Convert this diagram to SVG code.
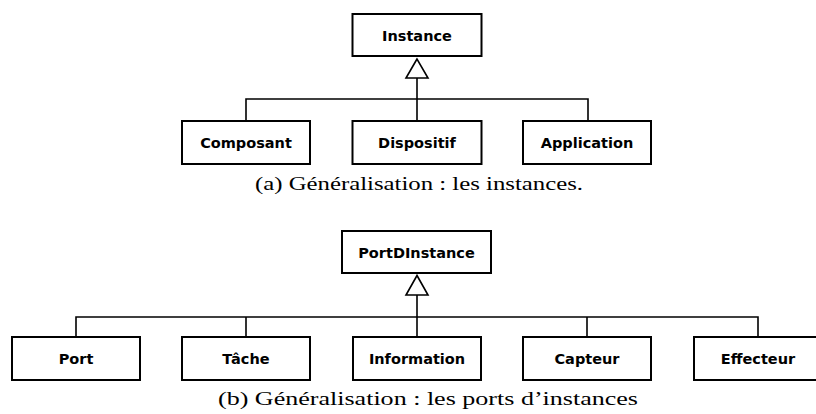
<svg xmlns="http://www.w3.org/2000/svg" width="816" height="414" viewBox="0 0 816 414">
<style>
.box{fill:#fff;stroke:#000;stroke-width:2}
.lbl{font-family:"DejaVu Sans",sans-serif;font-weight:bold;font-size:14.5px;text-anchor:middle;fill:#000}
.cap{font-family:"Liberation Serif","DejaVu Serif",serif;font-size:19px;fill:#000}
.ln{fill:none;stroke:#000;stroke-width:1.6}
.tri{fill:#fff;stroke:#000;stroke-width:1.6;stroke-linejoin:miter}
</style>
<rect width="816" height="414" fill="#fff"/>
<g id="connectors">
<path class="ln" d="M417 78V120.5M246 120.5V99H588V120.5"/>
<polygon class="tri" points="417,59 406,78 428,78"/>
<path class="ln" d="M417 295V337M76 337V317H758V337M246 317V337M587 317V337"/>
<polygon class="tri" points="417,275.5 406,295 428,295"/>
</g>
<g id="instance"><rect class="box" x="352.5" y="14" width="129" height="42"/><text class="lbl" x="417" y="40.5">Instance</text></g>
<g id="composant"><rect class="box" x="182" y="121" width="128" height="43"/><text class="lbl" x="246" y="147.5">Composant</text></g>
<g id="dispositif"><rect class="box" x="352.5" y="121" width="129" height="43"/><text class="lbl" x="417" y="147.5">Dispositif</text></g>
<g id="application"><rect class="box" x="523" y="121" width="128" height="43"/><text class="lbl" x="587" y="147.5">Application</text></g>
<text class="cap" x="255" y="190" textLength="328" lengthAdjust="spacingAndGlyphs">(a) Généralisation : les instances.</text>
<g id="portdinstance"><rect class="box" x="342" y="231" width="149" height="42"/><text class="lbl" x="416.5" y="257.5">PortDInstance</text></g>
<g id="port"><rect class="box" x="12" y="337" width="128" height="43"/><text class="lbl" x="76" y="363.5">Port</text></g>
<g id="tache"><rect class="box" x="182" y="337" width="128" height="43"/><text class="lbl" x="246" y="363.5">Tâche</text></g>
<g id="information"><rect class="box" x="353" y="337" width="128" height="43"/><text class="lbl" x="417" y="363.5">Information</text></g>
<g id="capteur"><rect class="box" x="523" y="337" width="128" height="43"/><text class="lbl" x="587" y="363.5">Capteur</text></g>
<g id="effecteur"><rect class="box" x="694" y="337" width="128" height="43"/><text class="lbl" x="758" y="363.5">Effecteur</text></g>
<text class="cap" x="218" y="405" textLength="420" lengthAdjust="spacingAndGlyphs">(b) Généralisation : les ports d’instances</text>
</svg>
